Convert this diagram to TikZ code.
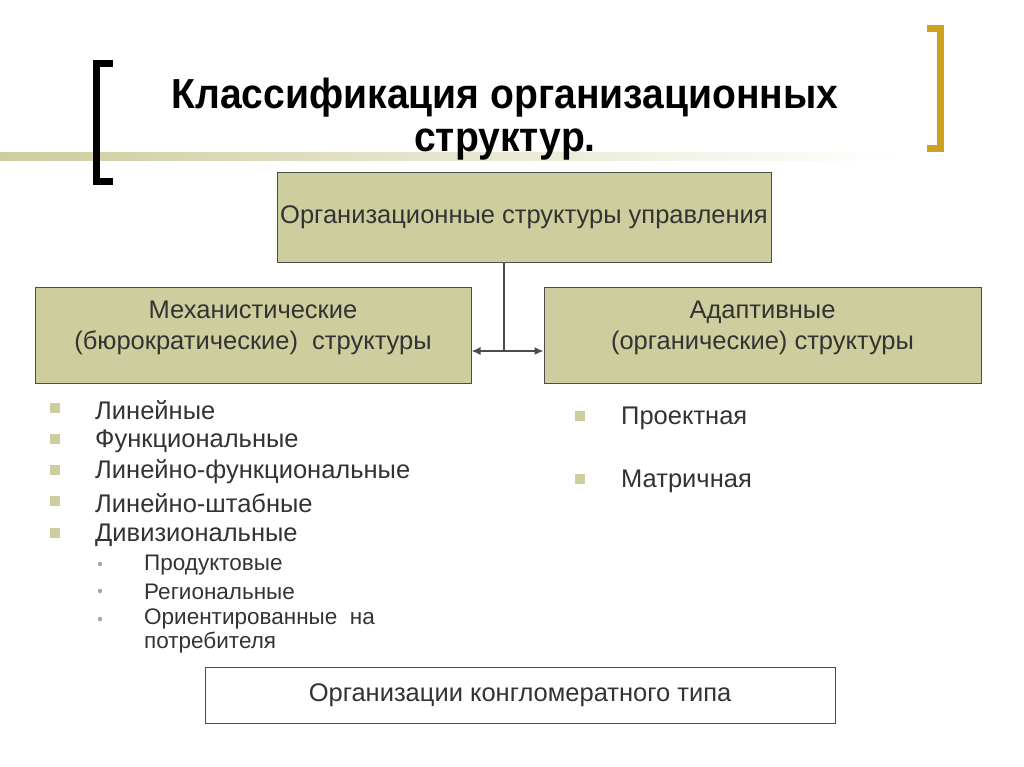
\documentclass[tikz,border=0pt]{standalone}
\usepackage{fontspec}
\setmainfont{Liberation Sans}
\usetikzlibrary{arrows.meta}
\definecolor{olivebox}{RGB}{205,205,158}
\definecolor{goldb}{RGB}{205,160,30}
\begin{document}
\begin{tikzpicture}[x=1pt,y=-1pt,
  boxs/.style={draw=black!70,line width=1pt,fill=olivebox,align=center,font=\fontsize{25.5}{31}\selectfont,text=black!80,inner sep=0},
  item/.style={anchor=west,font=\fontsize{25.5}{30}\selectfont,text=black!80,inner sep=0},
  sub/.style={anchor=west,font=\fontsize{22.5}{24}\selectfont,text=black!80,inner sep=0,align=left},
  sq/.style={fill=olivebox,minimum size=10pt,inner sep=0},
  dot/.style={fill=black!35,circle,minimum size=4.5pt,inner sep=0}]
\useasboundingbox (0,0) rectangle (1024,767);
\shade[left color=olivebox,right color=white] (0,153) rectangle (900,161);
\draw[line width=7pt] (113,63.5)--(96.5,63.5)--(96.5,181.5)--(113,181.5);
\draw[line width=7pt,goldb] (927,28.5)--(940.5,28.5)--(940.5,148.5)--(927,148.5);
\node[font=\fontsize{42}{46}\selectfont\bfseries,xscale=0.93,transform shape] (t1) at (505,98) {Классификация организационных};
\node[font=\fontsize{42}{46}\selectfont\bfseries,xscale=0.93,transform shape] (t2) at (505,145) {структур.};
\node[boxs,minimum width=494,minimum height=89] (top) at (524,217.5) {\raisebox{-4pt}{Организационные структуры управления}};
\node[boxs,minimum width=436,minimum height=96] (L) at (253,335) {\\[-27pt]Механистические\\(бюрократические)\ \ структуры};
\node[boxs,minimum width=437,minimum height=96] (R) at (762.5,335) {\\[-27pt]Адаптивные\\(органические) структуры};
\coordinate (j) at (504,351);
\draw[black!70,line width=1.5pt] (504,262)--(j);
\draw[black!70,line width=1.5pt,-{Latex[length=9pt,width=8pt]}] (j)--(L.east|-j);
\draw[black!70,line width=1.5pt,-{Latex[length=9pt,width=8pt]}] (j)--(R.west|-j);
\foreach \y/\t in {408/Линейные,439/Функциональные,470/Линейно-функциональные,501/Линейно-штабные,533/Дивизиональные}{
  \node[sq] at (55,\y) {}; \node[item] at (95,\y+2) {\t};}
\foreach \y/\t in {564/Продуктовые,591/Региональные}{
  \node[dot] at (100,\y) {}; \node[sub] at (144,\y+1) {\t};}
\node[dot] at (100,619) {};
\node[sub,anchor=north west] at (144,609) {Ориентированные\ \ на\\потребителя};
\foreach \y/\t in {416/Проектная,479/Матричная}{
  \node[sq] at (580,\y) {}; \node[item] at (621,\y+2) {\t};}
\node[boxs,fill=white,minimum width=630,minimum height=56] (B) at (520,695) {\raisebox{-3pt}{Организации конгломератного типа}};
\end{tikzpicture}
\end{document}
